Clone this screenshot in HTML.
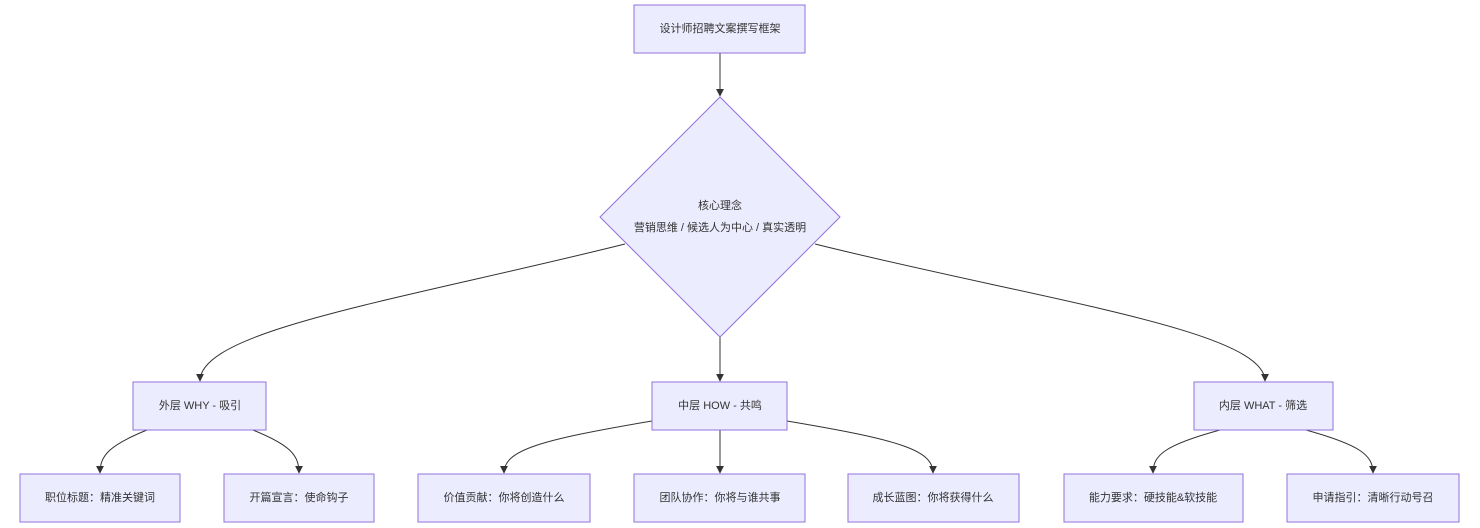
<!DOCTYPE html>
<html><head><meta charset="utf-8"><style>
html,body{margin:0;padding:0;background:#fff;width:1480px;height:528px;overflow:hidden}
text{font-family:"Liberation Sans","Noto Sans CJK SC",sans-serif;font-size:11px;fill:#333;text-anchor:middle;dominant-baseline:central}
.n{fill:#ECECFF;stroke:#9370DB;stroke-width:1}
.e{fill:none;stroke:#333;stroke-width:1}
</style></head><body>
<svg width="1480" height="528" viewBox="0 0 1480 528" xmlns="http://www.w3.org/2000/svg">
<defs><marker id="a" viewBox="0 0 10 10" refX="9" refY="5" markerWidth="8" markerHeight="8" orient="auto"><path d="M0,0L10,5L0,10z" fill="#333"/></marker></defs>
<g class="e">
<path d="M720,53L720,96" marker-end="url(#a)"/>
<path d="M625,244 C400,300 200,330 200,381" marker-end="url(#a)"/>
<path d="M720,337L720,381" marker-end="url(#a)"/>
<path d="M815,244 C1040,300 1265,330 1265,381" marker-end="url(#a)"/>
<path d="M147,430 C110,445 100,455 100,473" marker-end="url(#a)"/>
<path d="M253,430 C290,445 299,455 299,473" marker-end="url(#a)"/>
<path d="M652,421 C540,440 504,450 504,473" marker-end="url(#a)"/>
<path d="M720,430L720,473" marker-end="url(#a)"/>
<path d="M787,421 C900,440 933,450 933,473" marker-end="url(#a)"/>
<path d="M1220,430 C1165,445 1153,455 1153,473" marker-end="url(#a)"/>
<path d="M1306,430 C1360,445 1373,455 1373,473" marker-end="url(#a)"/>
</g>
<rect class="n" x="634" y="5" width="171" height="48"/><text x="720" y="29">设计师招聘文案撰写框架</text>
<polygon class="n" points="720,97 840,217 720,337 600,217"/>
<text x="720" y="206">核心理念</text>
<text x="720" y="228">营销思维 / 候选人为中心 / 真实透明</text>
<rect class="n" x="133" y="382" width="133" height="48"/><text x="200" y="406">外层 WHY - 吸引</text>
<rect class="n" x="652" y="382" width="135" height="48"/><text x="720" y="406">中层 HOW - 共鸣</text>
<rect class="n" x="1194" y="382" width="139" height="48"/><text x="1263" y="406">内层 WHAT - 筛选</text>
<rect class="n" x="20" y="474" width="160" height="48"/><text x="100" y="498">职位标题：精准关键词</text>
<rect class="n" x="224" y="474" width="150" height="48"/><text x="299" y="498">开篇宣言：使命钩子</text>
<rect class="n" x="418" y="474" width="172" height="48"/><text x="504" y="498">价值贡献：你将创造什么</text>
<rect class="n" x="634" y="474" width="171" height="48"/><text x="720" y="498">团队协作：你将与谁共事</text>
<rect class="n" x="848" y="474" width="171" height="48"/><text x="933" y="498">成长蓝图：你将获得什么</text>
<rect class="n" x="1064" y="474" width="179" height="48"/><text x="1153" y="498">能力要求：硬技能&amp;软技能</text>
<rect class="n" x="1287" y="474" width="172" height="48"/><text x="1373" y="498">申请指引：清晰行动号召</text>
</svg>
</body></html>
